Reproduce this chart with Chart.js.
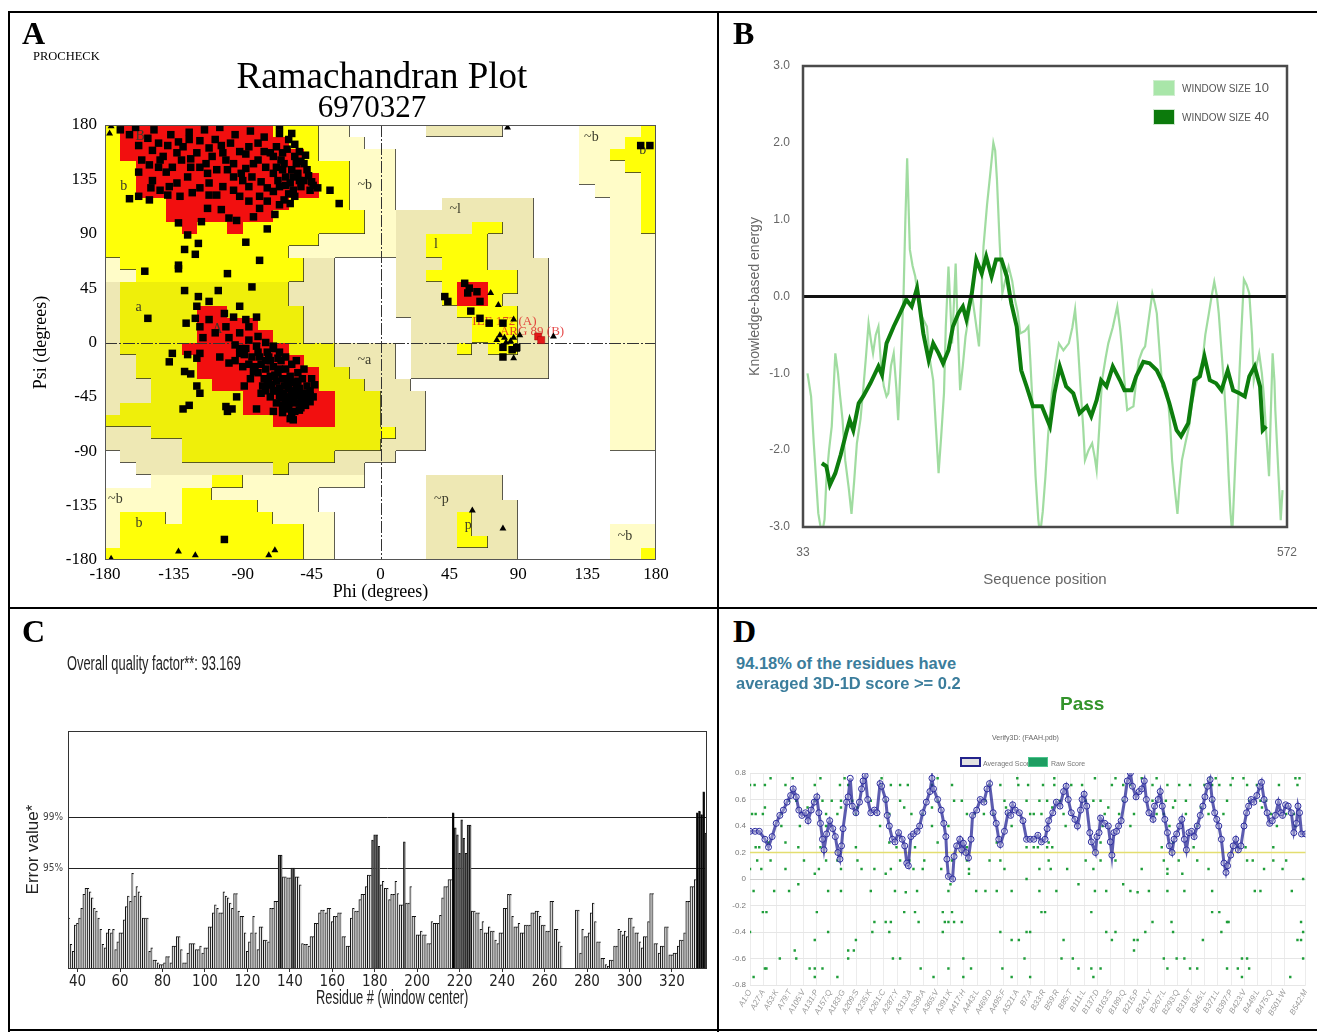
<!DOCTYPE html>
<html>
<head>
<meta charset="utf-8">
<title>Model validation</title>
<script src="https://cdn.jsdelivr.net/npm/chart.js@4.4.1/dist/chart.umd.min.js"></script>
<style>
  html, body { margin: 0; padding: 0; background: #fff; }
  #page { position: relative; width: 1317px; height: 1032px; overflow: hidden; font-family: 'Liberation Sans', Arial, sans-serif; }
  .rule { position: absolute; background: #000; }
  .panel { position: absolute; }
  .letter { position: absolute; font: bold 32px 'Liberation Serif', 'Times New Roman', serif; line-height: 1; }
  .txt { position: absolute; white-space: nowrap; line-height: 1; }
  .serif { font-family: 'Liberation Serif', 'Times New Roman', serif; }
  .swatch { position: absolute; box-sizing: border-box; }
</style>
</head>
<body>
<div id="page">
  <div class="rule" style="left:8px;top:11px;width:1309px;height:2px"></div>
  <div class="rule" style="left:8px;top:11px;width:2px;height:1021px"></div>
  <div class="rule" style="left:717px;top:11px;width:2px;height:1021px"></div>
  <div class="rule" style="left:8px;top:607px;width:1309px;height:2px"></div>
  <div class="rule" style="left:8px;top:1029px;width:1309px;height:2px"></div>

  <canvas id="rama" class="panel" width="706" height="593" style="left:10px;top:13px"></canvas>
  <canvas id="energy" class="panel" width="598" height="593" style="left:719px;top:13px"></canvas>
  <canvas id="errat" class="panel" width="706" height="420" style="left:10px;top:609px"></canvas>
  <canvas id="verify" class="panel" width="598" height="284" style="left:719px;top:745px"></canvas>

  <div class="letter" style="left:22px;top:17px">A</div>
  <div class="letter" style="left:733px;top:17px">B</div>
  <div class="letter" style="left:22px;top:615px">C</div>
  <div class="letter" style="left:733px;top:615px">D</div>

  <div class="txt serif" style="left:33px;top:50px;font-size:12.5px">PROCHECK</div>
  <div class="txt serif" style="left:382px;top:57px;font-size:37px;transform:translateX(-50%)">Ramachandran Plot</div>
  <div class="txt serif" style="left:372px;top:91px;font-size:31px;transform:translateX(-50%)">6970327</div>

  <div class="swatch" style="left:1153px;top:80px;width:22px;height:16px;background:#a9e6a9;border:1px solid #cfeecf"></div>
  <div class="txt" style="left:1182px;top:81px;font-size:13px;color:#555"><span style="font-size:10px">WINDOW SIZE</span> 10</div>
  <div class="swatch" style="left:1153px;top:109px;width:22px;height:16px;background:#0c7a0c;border:1px solid #cfe8cf"></div>
  <div class="txt" style="left:1182px;top:110px;font-size:13px;color:#555"><span style="font-size:10px">WINDOW SIZE</span> 40</div>

  <div class="txt" style="left:67px;top:654px;font-size:19.5px;color:#222;transform:scaleX(0.66);transform-origin:left top">Overall quality factor**: 93.169</div>
  <div class="txt" style="left:316px;top:988px;font-size:19.5px;color:#222;transform:scaleX(0.66);transform-origin:left top">Residue # (window center)</div>

  <div class="txt" style="left:736px;top:655px;font-size:16.5px;font-weight:bold;color:#3b7d9c">94.18% of the residues have</div>
  <div class="txt" style="left:736px;top:675px;font-size:16.5px;font-weight:bold;color:#3b7d9c">averaged 3D-1D score &gt;= 0.2</div>
  <div class="txt" style="left:1060px;top:694px;font-size:19px;font-weight:bold;color:#33942b">Pass</div>
  <div class="txt" style="left:992px;top:734px;font-size:7px;color:#666">Verify3D: (FAAH.pdb)</div>
  <div class="swatch" style="left:960px;top:757px;width:21px;height:10px;background:#e2e2e2;border:2px solid #23238c"></div>
  <div class="txt" style="left:983px;top:760px;font-size:7px;color:#777">Averaged Score</div>
  <div class="swatch" style="left:1028px;top:757px;width:20px;height:10px;background:#1e9e62;border:1px solid #4cc48c"></div>
  <div class="txt" style="left:1051px;top:760px;font-size:7px;color:#777">Raw Score</div>
</div>

<script>
// ---------- A: Ramachandran ----------
const ramaTicks = [-180, -135, -90, -45, 0, 45, 90, 135, 180];

// 10-degree cells, top row psi 170..180, first column phi -180..-170
// R core, Y allowed, y allowed (alpha band), G generous, P generous (pale), . disallowed
const ramaGrid = [
  "YRRRRRRRRRRYYYPP.." + "...GGGGG.....PPPPY",
  "YRRRRRRRRRRRYYPPP." + ".............PPPYY",
  "YRRRRRRRRRRRRYPPPP" + "P............PPYYY",
  "YYRRRRRRRRRRRYYYPP" + "P............PPPYY",
  "YYRRRRRRRRRRRRYYPP" + "P............PPPPY",
  "YYRRRRRRRRRRRRYYPP" + "P.............PPPY",
  "YYYYRRRRRRRRYYYYPP" + "P...GGGGGG.....PPY",
  "YYYYRRRRRRRYYYYYYP" + "PGGGGGGGGG.....PPY",
  "YYYYYRYYRYYYYYYYYP" + "PGGGGGYYGG.....PPY",
  "YYYYYYYYYYYYYYPPPP" + "PGGYYYYGGG.....PPP",
  "YYYYYYYYYYYYPPPPPP" + "PGGYYYYGGG.....PPP",
  "PYYYYYYYYYYYYGG..." + ".GGGYYYGGGG....PPP",
  "PPYYYYYYYYYYYGG..." + ".GGYYYYYYGG....PPP",
  "GyyyyyyyyyyyGGG..." + ".GGGYRRYYGG....PPP",
  "GyyyyyyyyyyyGGG..." + ".GGGYRRYGGG....PPP",
  "GyyyyyRRyyyyyGG..." + ".GGGGYYYYGG....PPP",
  "GyyyyyRRRRyyyGG..." + "..GGGGYYYGG....PPP",
  "GyyyyyRRRRRyyGG..." + "..GGGGYYYGG....PPP",
  "GyyyyRRRRRRRyyyGGG" + "G.GGGYGYYGG....PPP",
  "GGyyyyRRRRRRRyyGGG" + "G.GGGGGGGGG....PPP",
  "GGyyyyRRRRRRRRyyGG" + "G.GGGGGGGGG....PPP",
  "GGGyyyyRRRRRRRyyyG" + "GG.............PPP",
  "GGGyyyyyyRRRRRRyyy" + "GGG............PPP",
  "GyyyyyyyyRRRRRRyyy" + "GGG............PPP",
  "yyyyyyyyyyyRRRRyyy" + "GGG............PPP",
  "GGGyyyyyyyyyyyyyyy" + "YGG............PPP",
  "GGGGGyyyyyyyyyyyyy" + "GGG............PPP",
  ".GGGGyyyyyyyyyyGGG" + "G.................",
  "..GGGGGGGGGyGGGGG." + "..................",
  "...PPPPYYPPPPPPPP." + "...GGGGG..........",
  "PPPPPYYPPPPPPP...." + "...GGGGG..........",
  "PPPPPYYYYYPPPP...." + "...GGGGGG.........",
  "PYYYPYYYYYYPPPP..." + "...GGYGGG.........",
  "PYYYYYYYYYYYYPP..." + "...GGYGGG......PPP",
  "PYYYYYYYYYYYYPP..." + "...GGYYGG......PPP",
  "YYYYYYYYYYYYYPP..." + "...GGGGGG......PPY"
];

// residues (phi, psi)
const ramaRes = [
  [-164,172],[-158,163],[-152,169],[-137,172],[-125,174],[-125,168],[-139,163],[-149,159],[-156,151],[-151,147],
  [-142,154],[-133,157],[-129,162],[-120,157],[-112,161],[-104,163],[-92,158],[-88,156],[-80,165],[-66,179],
  [-66,173],[-58,173],[-60,168],[-53,158],[-50,148],[-44,130],[-41,128],[-33,126],[-27,115],[-149,134],
  [-140,141],[-133,132],[-126,137],[-118,145],[-112,132],[-107,143],[-101,151],[-96,137],[-90,134],[-83,148],
  [-80,151],[-75,145],[-70,140],[-67,134],[-64,143],[-62,137],[-59,132],[-57,126],[-55,148],[-53,134],
  [-56,121],[-65,151],[-72,157],[-64,157],[-60,123],[-59,115],[-79,111],[-83,104],[-99,103],[-94,101],
  [-113,111],[-131,121],[-151,118],[-164,119],[-158,121],[-112,122],[-132,99],[-126,89],[-119,82],[-128,77],
  [-121,73],[-88,83],[-79,68],[-74,94],[-132,64],[-132,61],[-154,59],[-100,57],
  [-70,154],[-68,145],[-66,129],[-63,148],[-58,143],[-56,154],[-54,140],[-52,129],[-50,134],[-48,143],
  [-46,126],[-63,118],[-66,114],[-158,141],[-144,126],[-138,129],[-118,128],[-103,129],[-92,121],[-86,129],
  [-79,121],[-113,140],[-124,145],[-96,148],[-110,154],[-103,157],[-88,144],[-136,145],[-144,151],[-130,151],
  [-170,176],[-160,178],[-148,176],[-115,176],[-105,178],[-95,172],[-85,175],[-76,170],[-145,165],[-132,166],
  [-118,167],[-108,168],[-98,165],[-86,162],[-76,158],[-145,145],[-124,152],[-114,148],[-100,143],[-91,140],
  [-84,137],[-78,133],[-74,128],[-70,125],[-62,130],[-57,137],[-52,150],[-49,155],[-47,138],[-45,133],
  [-61,160],[-68,162],[-56,164],[-150,128],[-139,122],[-123,124],[-107,122],[-96,126],[-86,117],[-74,117],
  [-69,106],[-104,110],[-117,100],
  [-84,46],[-128,43],[-119,38],[-112,34],[-106,43],[-120,30],[-152,20],[-102,24],[-127,16],[-121,20],
  [-92,30],[-88,19],[-112,19],[-108,8],[-101,13],[-96,21],[-92,8],[-86,13],[-81,21],[-99,4],[-116,4],[-118,13],
  [-136,-9],[-126,-10],[-138,-16],[-120,-13],[-118,-9],[-128,-24],[-124,-26],[-120,-36],[-118,-42],[-129,-55],
  [-125,-52],[-101,-53],[-97,-55],[-100,-57],[-81,-55],[-70,-57],[-59,-63],[-57,-64],[-53,-56],[-46,-49],
  [-94,-45],[-89,-36],[-99,-17],[-105,-12],[-92,-9],[-81,-3],[-75,-15],[-70,-3],
  [-88,-5],[-84,-12],[-80,-8],[-78,-18],[-75,-22],[-73,-12],[-72,-28],[-70,-20],[-68,-32],[-67,-25],
  [-66,-38],[-65,-15],[-64,-30],[-63,-42],[-62,-22],[-61,-35],[-60,-45],[-59,-28],[-58,-40],[-57,-50],
  [-56,-33],[-55,-44],[-54,-25],[-53,-38],[-52,-48],[-51,-30],[-50,-42],[-49,-52],[-48,-36],[-47,-45],
  [-46,-40],[-70,-40],[-74,-35],[-76,-30],[-80,-25],[-82,-20],[-78,-42],[-72,-45],[-68,-50],[-64,-52],
  [-60,-55],[-85,-30],[-90,-20],[-95,-15],[-92,-5],[-86,2],[-80,5],[-75,0],[-70,-5],[-66,-8],
  [-62,-12],[-58,-18],[-55,-15],[-50,-22],[-45,-30],[-43,-35],[-44,-45],[-58,-60],
  [-66,-44],[-63,-36],[-60,-38],[-57,-45],[-55,-37],[-53,-50],[-51,-44],[-49,-46],[-62,-48],[-65,-46],
  [-68,-40],[-71,-35],[-73,-30],[-69,-27],[-66,-22],[-62,-30],[-59,-33],[-56,-42],[-54,-32],[-60,-50],
  [-64,-58],[-56,-57],[-52,-54],[-48,-48],[-46,-44],[-75,-40],[-77,-36],[-83,-24],[-86,-18],[-79,-12],
  [-89,-10],[-95,-2],[-72,-15],[-67,-13],[-74,-8],
  [-102,-163],[170,163],[176,163],
  [55,49],[58,45],[57,41],[63,42],[65,34],[42,38],[44,34],[59,26],[65,20],[71,16],
  [80,16],[80,-4],[80,-12],[86,-6],[89,-4]
];
const ramaGly = [
  [-176,179],[-177,173],[83,178],[72,41],[77,31],[87,19],[78,6],[81,4],[87,4],[91,6],
  [85,1],[89,-6],[87,-13],[82,0],[76,2],[113,5],[60,-139],[80,-154],
  [-176,-179],[-132,-173],[-121,-176],[-73,-176],[-69,-172]
];
const ramaOut = [[103,5],[105,2]];

const ramaLabels = [
  ['B', -160, 171], ['b', -170, 129], ['~b', -15, 130], ['a', -160, 29], ['A', -110, 11],
  ['~a', -15, -15], ['~l', 45, 110], ['l', 35, 81], ['~b', 133, 170], ['b', 169, 159],
  ['~b', -178, -130], ['b', -160, -150], ['~p', 35, -130], ['p', 55, -151], ['~b', 155, -160]
];
const ramaFlags = [['ILE 172 (A)', 60, 17], ['ARG 89 (B)', 78, 9]];

// ---------- B: knowledge-based energy ----------
const energyTicks = [-3, -2, -1, 0, 1, 2, 3];
const w10 = [
  [38,-1.0],[42,-1.3],[45,-1.91],[50,-2.82],[54,-3.1],[57,-2.9],[59,-2.39],[62,-2.0],[65,-1.69],[69,-0.74],
  [72,-1.0],[74,-1.26],[77,-1.6],[80,-2.13],[84,-2.5],[87,-2.83],[90,-2.4],[93,-1.91],[97,-1.6],[100,-1.22],
  [103,-0.8],[106,-0.35],[109,-0.6],[111,-0.74],[114,-0.5],[117,-0.39],[120,-0.9],[123,-1.17],[126,-1.3],[128,-1.26],
  [131,-0.9],[134,-0.74],[137,-1.2],[139,-1.61],[142,-0.8],[145,0.04],[147,1.0],[149,1.8],[151,1.0],[152,0.61],
  [155,0.4],[158,0.26],[161,0.0],[164,-0.22],[167,-0.3],[171,-0.39],[174,-0.8],[178,-1.09],[181,-1.7],[184,-2.3],
  [187,-1.8],[190,-1.26],[192,-0.4],[195,0.39],[197,-0.1],[199,-0.61],[201,-0.1],[203,0.43],[205,-0.3],[208,-1.22],
  [211,-0.9],[214,-0.52],[217,-0.3],[221,0.04],[225,-0.3],[229,-0.65],[232,0.1],[234,0.65],[238,1.2],[242,1.65],
  [245,2.0],[247,1.9],[249,1.52],[252,0.7],[255,0.04],[258,0.2],[262,0.39],[266,0.2],[269,-0.04],[272,-0.2],
  [275,-0.48],[280,-0.45],[284,-0.39],[286,-0.8],[288,-1.26],[290,-1.8],[292,-2.34],[295,-2.9],[297,-3.1],[300,-2.8],
  [303,-2.34],[306,-1.8],[310,-1.26],[314,-0.9],[318,-0.61],[323,-0.7],[329,-0.61],[333,-0.4],[336,-0.17],[339,-0.6],
  [342,-1.17],[345,-1.7],[347,-2.13],[351,-2.0],[355,-1.91],[358,-2.1],[360,-2.26],[363,-1.7],[366,-1.09],[370,-0.8],
  [373,-0.61],[378,-0.4],[383,-0.13],[386,-0.4],[388,-0.65],[391,-1.1],[394,-1.48],[398,-1.45],[401,-1.43],[404,-1.1],
  [407,-0.83],[411,-0.7],[414,-0.65],[418,-0.3],[422,0.04],[425,-0.1],[427,-0.22],[430,-0.7],[433,-1.17],[436,-1.2],
  [439,-1.26],[442,-1.7],[444,-2.13],[447,-2.5],[450,-2.83],[452,-2.5],[455,-2.13],[459,-1.9],[463,-1.69],[466,-1.4],
  [470,-1.17],[474,-1.0],[478,-0.83],[481,-0.5],[485,-0.22],[488,0.0],[491,0.19],[494,0.0],[496,-0.22],[499,-0.7],
  [502,-1.17],[505,-1.8],[507,-2.34],[509,-2.8],[511,-3.1],[515,-2.0],[518,-1.26],[521,-0.5],[524,0.22],[527,0.15],
  [530,0.04],[533,-0.5],[535,-1.09],[538,-0.9],[541,-0.74],[544,-1.0],[546,-1.26],[549,-1.8],[552,-2.34],[554,-1.5],
  [556,-0.74],[558,-1.1],[559,-1.48],[562,-2.2],[565,-2.91],[567,-2.52]
];
const w40 = [
  [54,-2.17],[59,-2.21],[63,-2.45],[69,-2.3],[75,-2.06],[81,-1.78],[85,-1.61],[89,-1.74],[95,-1.39],[100,-1.3],
  [108,-1.13],[117,-0.91],[121,-1.02],[126,-0.61],[134,-0.39],[141,-0.22],[148,-0.04],[154,-0.13],[160,0.11],[163,-0.13],
  [167,-0.48],[173,-0.83],[178,-0.61],[184,-0.74],[189,-0.87],[195,-0.7],[200,-0.39],[206,-0.22],[211,-0.13],[215,-0.3],
  [221,0.04],[226,0.48],[232,0.3],[237,0.52],[243,0.26],[248,0.48],[254,0.48],[260,0.26],[265,-0.09],[271,-0.39],
  [276,-0.96],[282,-1.17],[289,-1.43],[299,-1.43],[308,-1.69],[313,-1.26],[319,-0.91],[326,-1.17],[334,-1.26],[341,-1.52],
  [349,-1.43],[354,-1.56],[360,-1.35],[365,-1.09],[371,-1.17],[378,-0.91],[386,-1.09],[391,-1.22],[399,-1.22],[404,-1.04],
  [412,-0.85],[419,-0.87],[427,-0.96],[434,-1.13],[441,-1.39],[449,-1.74],[454,-1.82],[462,-1.65],[469,-1.09],[475,-1.04],
  [480,-0.78],[486,-1.09],[493,-1.13],[499,-1.22],[506,-0.96],[512,-1.22],[519,-1.26],[525,-1.3],[530,-1.04],[536,-0.91],
  [542,-1.17],[545,-1.74],[549,-1.69]
];

// ---------- C: ERRAT ----------
const errStart = 36;
const errVal = [
  5.7, 2.7, 1.9, 4.9, 5.1, 5.7, 6.8, 8.4, 9.1, 9.1, 8.7, 8.0, 6.8, 6.5, 5.7, 4.4, 2.7, 2.3, 4.0, 4.4,
  4.0, 4.4, 2.1, 3.0, 4.0, 4.0, 5.5, 7.0, 8.2, 7.6, 10.8, 8.2, 9.3, 8.7, 8.2, 5.7, 5.7, 5.7, 1.9, 2.3,
  0.9, 0.9, 0.6, 0.4, 0.4, 0.6, 1.3, 1.3, 0.6, 2.5, 2.5, 3.6, 3.6, 2.1, 0.6, 0.6, 1.7, 2.8, 2.8, 2.8,
  2.1, 2.1, 2.5, 1.7, 2.3, 2.3, 4.7, 4.7, 6.3, 7.2, 6.8, 6.3, 6.3, 8.7, 8.2, 8.0, 7.4, 6.8, 8.5, 8.5,
  6.5, 5.9, 5.9, 4.0, 1.9, 3.0, 4.0, 5.9, 4.0, 2.1, 4.7, 4.7, 3.2, 3.2, 3.0, 6.8, 6.8, 7.6, 7.6, 12.9,
  12.9, 10.4, 10.4, 10.3, 10.3, 11.4, 11.4, 10.4, 10.4, 9.5, 2.8, 2.7, 2.7, 2.5, 3.6, 3.6, 5.1, 5.1, 6.3, 6.6,
  6.6, 6.3, 6.8, 6.8, 5.3, 5.9, 5.9, 6.3, 6.3, 3.6, 3.6, 2.5, 2.5, 5.7, 6.8, 6.5, 6.5, 7.8, 8.4, 8.4,
  9.3, 10.6, 10.6, 14.6, 15.2, 15.2, 13.9, 9.5, 9.9, 9.1, 9.1, 7.8, 8.4, 8.4, 9.9, 8.5, 7.2, 7.2, 14.4, 7.4,
  7.4, 9.3, 5.9, 5.9, 3.8, 3.8, 4.2, 3.8, 3.8, 2.8, 2.8, 5.3, 5.1, 5.1, 5.1, 6.0, 8.0, 9.3, 9.3, 10.1,
  10.1, 17.7, 16.0, 15.2, 13.1, 16.9, 14.8, 13.1, 16.3, 16.3, 6.5, 6.5, 6.3, 6.3, 4.4, 5.3, 4.0, 4.0, 4.7, 4.2,
  4.2, 3.2, 2.8, 4.0, 4.0, 6.8, 6.8, 8.4, 8.4, 5.9, 4.7, 4.7, 5.1, 4.0, 4.0, 4.9, 4.9, 4.9, 6.3, 6.3,
  6.5, 6.5, 5.9, 4.9, 4.9, 4.2, 4.2, 7.6, 7.6, 4.4, 4.4, 3.0, 2.5, 0, 0, 0, 0, 0, 0, 6.6,
  6.6, 1.7, 4.4, 3.6, 3.6, 4.0, 6.3, 7.4, 5.3, 3.0, 3.0, 1.1, 1.1, 0.4, 0.2, 0.9, 0.9, 2.5, 2.5, 4.4,
  4.2, 3.8, 4.2, 3.6, 5.7, 5.7, 4.7, 4.0, 4.0, 3.0, 2.3, 3.6, 3.6, 5.3, 8.5, 8.5, 2.8, 2.8, 1.7, 2.5,
  2.5, 4.7, 4.7, 1.5, 1.5, 1.7, 1.7, 2.5, 3.2, 3.2, 4.0, 7.6, 7.6, 9.3, 9.3, 10.1, 17.7, 17.9, 17.5, 20.1,
  15.4
];
const errTicks = [40, 60, 80, 100, 120, 140, 160, 180, 200, 220, 240, 260, 280, 300, 320];
const errLimits = [11.36, 17.19];
const errLimitNames = ['95%', '99%'];

// ---------- D: Verify3D ----------
const verifyTickPos = [0,26,52,78,104,130,156,182,208,234,260,286,312,338,364,390,416,442,468,494,520,
  546,572,598,624,650,676,702,728,754,780,806,832,858,884,910,936,962,988,1014,1040,1081];
const verifyTickNames = ['A1:O','A27:A','A53:K','A79:T','A105:V','A131:P','A157:Q','A183:G','A209:S','A235:K',
  'A261:C','A287:Y','A313:A','A339:A','A365:V','A391:K','A417:H','A443:L','A469:D','A495:F','A521:A',
  'B7:A','B33:R','B59:R','B85:T','B111:L','B137:D','B163:S','B189:Q','B215:P','B241:Y','B267:L','B293:Q',
  'B319:T','B345:L','B371:L','B397:P','B423:V','B449:L','B475:Q','B501:W','B542:M'];
const verifyYTicks = [-0.8, -0.6, -0.4, -0.2, 0, 0.2, 0.4, 0.6, 0.8];
const avgScore = [
  [0,0.36],[10,0.36],[18,0.36],[29,0.3],[36,0.24],[43,0.32],[51,0.42],[58,0.48],[65,0.52],[72,0.58],
  [79,0.63],[84,0.68],[90,0.62],[95,0.52],[101,0.48],[108,0.5],[113,0.44],[119,0.52],[125,0.58],[130,0.62],
  [134,0.5],[137,0.42],[141,0.3],[144,0.22],[149,0.34],[155,0.44],[161,0.38],[166,0.32],[171,0.2],[175,0.15],
  [178,0.25],[181,0.38],[188,0.58],[191,0.62],[195,0.76],[199,0.55],[206,0.5],[213,0.58],[217,0.68],[220,0.74],
  [224,0.78],[229,0.6],[235,0.5],[242,0.52],[247,0.5],[253,0.72],[256,0.7],[264,0.6],[267,0.48],[271,0.4],
  [277,0.3],[282,0.28],[289,0.35],[296,0.3],[301,0.25],[305,0.12],[308,0.1],[313,0.32],[318,0.34],[325,0.36],
  [330,0.4],[336,0.5],[343,0.58],[350,0.66],[354,0.76],[357,0.68],[365,0.6],[372,0.52],[377,0.42],[381,0.32],
  [383,0.15],[386,0.02],[394,0.0],[397,0.17],[402,0.25],[408,0.3],[412,0.22],[415,0.27],[420,0.2],[425,0.16],
  [430,0.3],[433,0.48],[441,0.52],[448,0.6],[455,0.58],[461,0.68],[466,0.72],[473,0.5],[479,0.42],[484,0.3],
  [487,0.26],[495,0.36],[502,0.5],[507,0.48],[511,0.56],[516,0.52],[524,0.5],[531,0.44],[538,0.3],[545,0.3],
  [552,0.3],[560,0.33],[567,0.28],[574,0.3],[578,0.38],[581,0.44],[589,0.5],[596,0.58],[603,0.55],[610,0.66],
  [615,0.7],[619,0.6],[625,0.5],[632,0.45],[637,0.4],[643,0.52],[646,0.6],[650,0.64],[655,0.55],[661,0.35],
  [664,0.28],[672,0.2],[675,0.32],[679,0.35],[682,0.46],[690,0.42],[697,0.4],[701,0.28],[704,0.18],[708,0.35],
  [713,0.36],[717,0.4],[722,0.44],[729,0.6],[734,0.74],[740,0.8],[744,0.7],[751,0.62],[757,0.66],[762,0.68],
  [767,0.74],[771,0.6],[776,0.5],[784,0.45],[787,0.55],[794,0.6],[798,0.66],[802,0.55],[807,0.45],[812,0.35],
  [816,0.25],[821,0.2],[825,0.3],[830,0.34],[836,0.4],[840,0.45],[845,0.3],[849,0.22],[854,0.35],[859,0.36],
  [864,0.32],[870,0.4],[876,0.48],[881,0.55],[885,0.62],[890,0.7],[895,0.75],[899,0.6],[904,0.5],[908,0.45],
  [912,0.4],[917,0.3],[922,0.12],[926,0.05],[929,0.1],[935,0.18],[940,0.25],[945,0.3],[950,0.22],[955,0.25],
  [961,0.4],[966,0.5],[970,0.55],[975,0.6],[980,0.58],[986,0.63],[992,0.7],[995,0.73],[1000,0.6],[1006,0.5],
  [1011,0.42],[1016,0.44],[1022,0.48],[1028,0.58],[1033,0.5],[1036,0.48],[1042,0.56],[1047,0.55],[1053,0.5],[1058,0.35],
  [1063,0.42],[1066,0.55],[1069,0.5],[1073,0.34],[1081,0.34]
];
const rawLevels = [0.76, 0.71, 0.59, 0.54, 0.49, 0.40, 0.275, 0.24, 0.14, 0.075, 0.04, 0.0, -0.04, -0.09, -0.1,
  -0.25, -0.325, -0.40, -0.46, -0.54, -0.60, -0.675, -0.74, -0.81];
const rawPositions = [
  [40,83,137,184,256,365,520,592,671,711,762,791,895,906,939,960,1061,1069],
  [0,9,29,69,126,175,191,256,274,292,307,354,393,466,487,522,541,570,592,625,646,704,726,740,783,812,835,856,884,899,913,935,967,986,1029,1065],
  [76,90,126,141,159,177,199,235,264,292,365,397,412,458,495,538,563,578,603,653,668,682,726,783,809,827,848,899,928,971,993,1004],
  [29,112,177,209,300,354,498,588,697,823,877,996],
  [4,11,25,61,148,170,206,271,314,336,422,437,455,473,502,545,552,567,610,690,718,747,791,805,848,892,921,1014,1043,1058],
  [61,97,148,253,354,386,509,614,686,740,816,870,1025,1061],
  [36,69,271,365,480,581,682,823],
  [11,18,94,137,206,285,321,422,538,552,560,578,588,801,863,949,964,1018],
  [14,40,105,148,170,209,292,310,339,393,422,466,487,581,653,682,711,805,834,870,967,978,1018,1043],
  [0,22,69,134,177,217,242,274,318,336,372,426,495,563,585,617,668,762,812,892,1000,1036],
  [126,264,426,812,841],
  [538,1076],
  [94,390,639,726],
  [7,47,76,152,177,235,282,325,386,440,458,480,509,563,596,671,693,740,776,812,845,899,982,993,1054],
  [303,754],
  [25,32,130,300,321,375,393,567,574,664,899,913],
  [242,264,274,328,379,386,397,412,783,820,928,931,1072],
  [0,152,238,271,375,487,538,545,693,711,769,823,917,1076],
  [126,206,509,523,610,704,747,754,881,1065,1072],
  [87,191,202,747],
  [58,90,191,278,292,415,534,606,628,805,830,845,957,967,1076],
  [29,32,116,126,141,332,386,430,491,639,664,682,812,856,870,928,949,971],
  [7,126,170,357,415,509,545,668,957,1051],
  [906]
];

// ---------- drawing ----------
Chart.defaults.animation = false;
Chart.defaults.font.family = "'Liberation Sans', Arial, sans-serif";
const serif = "'Liberation Serif', 'Times New Roman', serif";
const narrow = "'Liberation Sans Narrow', 'DejaVu Sans Condensed', 'Liberation Sans', sans-serif";
const toXY = arr => arr.map(p => ({ x: p[0], y: p[1] }));
const noLegend = { legend: { display: false }, tooltip: { enabled: false } };

const cellColors = { R: '#f20f0f', Y: '#ffff08', y: '#efef0a', G: '#eee8b4', P: '#fffcc8' };
const cellRank = { R: 3, Y: 2, y: 2, G: 1, P: 1, '.': 0 };

const ramaPaint = {
  id: 'ramaPaint',
  beforeDatasetsDraw(chart) {
    const { ctx, scales: { x, y } } = chart;
    const px = j => Math.round(x.getPixelForValue(-180 + 10 * j));
    const py = i => Math.round(y.getPixelForValue(180 - 10 * i));
    ctx.save();
    ramaGrid.forEach((row, i) => {
      for (let j = 0; j < row.length; j++) {
        const c = row[j];
        if (c === '.') continue;
        ctx.fillStyle = cellColors[c];
        ctx.fillRect(px(j), py(i), px(j + 1) - px(j), py(i + 1) - py(i));
      }
    });
    // region outlines on right and lower edges, as in the PROCHECK plot
    ctx.strokeStyle = 'rgba(40,40,40,0.75)';
    ctx.lineWidth = 1;
    ctx.beginPath();
    ramaGrid.forEach((row, i) => {
      for (let j = 0; j < row.length; j++) {
        const r = cellRank[row[j]];
        if (r === 0 || r === 3) continue;
        if (j + 1 < row.length && cellRank[row[j + 1]] < r) {
          ctx.moveTo(px(j + 1) - 0.5, py(i)); ctx.lineTo(px(j + 1) - 0.5, py(i + 1));
        }
        if (i + 1 < ramaGrid.length && cellRank[ramaGrid[i + 1][j]] < r) {
          ctx.moveTo(px(j), py(i + 1) - 0.5); ctx.lineTo(px(j + 1), py(i + 1) - 0.5);
        }
      }
    });
    ctx.stroke();
    // zero lines
    ctx.strokeStyle = '#333';
    ctx.setLineDash([12, 2, 2, 2]);
    const zx = Math.round(x.getPixelForValue(0)) + 0.5;
    const zy = Math.round(y.getPixelForValue(0)) + 0.5;
    ctx.beginPath();
    ctx.moveTo(zx, chart.chartArea.top); ctx.lineTo(zx, chart.chartArea.bottom);
    ctx.moveTo(chart.chartArea.left, zy); ctx.lineTo(chart.chartArea.right, zy);
    ctx.stroke();
    ctx.setLineDash([]);
    // region letters
    ctx.fillStyle = '#3a3a2a';
    ctx.font = '14px ' + serif;
    ctx.textBaseline = 'middle';
    ramaLabels.forEach(([t, lx, ly]) => ctx.fillText(t, x.getPixelForValue(lx), y.getPixelForValue(ly)));
    ctx.fillStyle = 'rgba(225,40,40,0.85)';
    ctx.font = '13px ' + serif;
    ramaFlags.forEach(([t, lx, ly]) => ctx.fillText(t, x.getPixelForValue(lx), y.getPixelForValue(ly)));
    ctx.restore();
  },
  afterDatasetsDraw(chart) {
    const { ctx, chartArea: a } = chart;
    ctx.save();
    ctx.strokeStyle = '#555';
    ctx.lineWidth = 1;
    ctx.strokeRect(a.left + 0.5, a.top + 0.5, a.right - a.left - 1, a.bottom - a.top - 1);
    ctx.restore();
  }
};

new Chart(document.getElementById('rama'), {
  type: 'scatter',
  data: {
    datasets: [
      { data: toXY(ramaOut), pointStyle: 'rect', pointRadius: 5, backgroundColor: '#e31818', borderColor: '#a01010', borderWidth: 0.5 },
      { data: toXY(ramaGly), pointStyle: 'triangle', pointRadius: 4, backgroundColor: '#000', borderColor: '#000', borderWidth: 0 },
      { data: toXY(ramaRes), pointStyle: 'rect', pointRadius: 5.3, backgroundColor: '#000', borderColor: '#000', borderWidth: 0 }
    ]
  },
  options: {
    responsive: false,
    layout: { padding: { top: 112, right: 60, left: 0, bottom: 0 } },
    plugins: noLegend,
    scales: {
      x: {
        type: 'linear', min: -180, max: 180,
        afterBuildTicks: s => { s.ticks = ramaTicks.map(v => ({ value: v })); },
        afterFit: s => { s.height = 46; },
        grid: { display: false, drawTicks: false }, border: { display: false },
        ticks: { color: '#000', font: { family: serif, size: 17 }, padding: 4, maxRotation: 0 },
        title: { display: true, text: 'Phi (degrees)', color: '#000', font: { family: serif, size: 18 }, padding: { top: 0, bottom: 3 } }
      },
      y: {
        type: 'linear', min: -180, max: 180,
        afterBuildTicks: s => { s.ticks = ramaTicks.map(v => ({ value: v })); },
        afterFit: s => { s.width = 95; },
        grid: { display: false, drawTicks: false }, border: { display: false },
        ticks: { color: '#000', font: { family: serif, size: 17 }, padding: 8 },
        title: { display: true, text: 'Psi (degrees)', color: '#000', font: { family: serif, size: 18 }, padding: { top: 20, bottom: 0 } }
      }
    }
  },
  plugins: [ramaPaint]
});

const energyFrame = {
  id: 'energyFrame',
  afterDatasetsDraw(chart) {
    const { ctx, chartArea: a, scales: { y } } = chart;
    ctx.save();
    const zy = y.getPixelForValue(0);
    ctx.strokeStyle = '#111';
    ctx.lineWidth = 3;
    ctx.beginPath(); ctx.moveTo(a.left, zy); ctx.lineTo(a.right, zy); ctx.stroke();
    ctx.strokeStyle = '#4a4a4a';
    ctx.lineWidth = 2.5;
    ctx.strokeRect(a.left, a.top, a.right - a.left, a.bottom - a.top);
    ctx.restore();
  }
};

new Chart(document.getElementById('energy'), {
  type: 'scatter',
  data: {
    datasets: [
      { data: toXY(w40), showLine: true, borderColor: '#0d7d0d', borderWidth: 4, pointRadius: 0 },
      { data: toXY(w10), showLine: true, borderColor: 'rgba(120,205,120,0.7)', borderWidth: 2.2, pointRadius: 0 }
    ]
  },
  options: {
    responsive: false,
    layout: { padding: { top: 53, right: 30, left: 0, bottom: 0 } },
    plugins: noLegend,
    scales: {
      x: {
        type: 'linear', min: 33, max: 572,
        afterBuildTicks: s => { s.ticks = [{ value: 33 }, { value: 572 }]; },
        afterFit: s => { s.height = 79; },
        grid: { display: false, drawTicks: false }, border: { display: false },
        ticks: { color: '#666', font: { size: 12 }, padding: 18, maxRotation: 0 },
        title: { display: true, text: 'Sequence position', color: '#666', font: { size: 15 }, padding: { top: 0, bottom: 17 } }
      },
      y: {
        type: 'linear', min: -3, max: 3,
        afterBuildTicks: s => { s.ticks = energyTicks.map(v => ({ value: v })); },
        afterFit: s => { s.width = 84; },
        grid: { display: false, drawTicks: false }, border: { display: false },
        ticks: { color: '#666', font: { size: 12 }, padding: 13, callback: v => Number(v).toFixed(1) },
        title: { display: true, text: 'Knowledge-based energy', color: '#666', font: { size: 14 }, padding: { top: 28, bottom: 0 } }
      }
    }
  },
  plugins: [energyFrame]
});

const boxFrame = {
  id: 'boxFrame',
  afterDatasetsDraw(chart) {
    const { ctx, chartArea: a } = chart;
    ctx.save();
    ctx.strokeStyle = '#333';
    ctx.lineWidth = 1;
    ctx.strokeRect(a.left + 0.5, a.top + 0.5, a.right - a.left - 1, a.bottom - a.top);
    ctx.restore();
  }
};

const errColor = v => v > errLimits[1] ? '#000' : (v > errLimits[0] ? '#666' : '#e4e4e4');

new Chart(document.getElementById('errat'), {
  type: 'bar',
  data: {
    datasets: [{
      data: errVal.map((v, i) => ({ x: errStart + i, y: v })),
      backgroundColor: c => errColor(c.raw ? c.raw.y : 0),
      borderColor: '#111',
      borderWidth: { left: 1, top: 1, right: 0, bottom: 0 },
      borderSkipped: false,
      barPercentage: 1, categoryPercentage: 1
    }]
  },
  options: {
    responsive: false,
    layout: { padding: { top: 122, right: 9, left: 0, bottom: 0 } },
    plugins: noLegend,
    scales: {
      x: {
        type: 'linear', min: 35.5, max: 336.5, offset: false,
        afterBuildTicks: s => { s.ticks = errTicks.map(v => ({ value: v })); },
        afterFit: s => { s.height = 61; },
        grid: { display: true, drawOnChartArea: false, drawTicks: true, tickLength: 4, color: '#333', offset: false },
        border: { display: false },
        ticks: { color: '#222', font: { family: narrow, size: 15 }, padding: 1, maxRotation: 0, autoSkip: false }
      },
      y: {
        type: 'linear', min: 0, max: 27.05,
        afterBuildTicks: s => { s.ticks = errLimits.map(v => ({ value: v })); },
        afterFit: s => { s.width = 58; },
        grid: { display: true, drawTicks: false, color: '#222', lineWidth: 1 },
        border: { display: false },
        ticks: { color: '#444', font: { family: narrow, size: 10 }, padding: 5, callback: (v, i) => errLimitNames[i] },
        title: { display: true, text: 'Error value*', color: '#222', font: { size: 17 }, padding: { top: 13, bottom: 0 } }
      }
    }
  },
  plugins: [boxFrame]
});

const rawPoints = [];
rawLevels.forEach((lv, k) => rawPositions[k].forEach(p => rawPoints.push({ x: p, y: lv })));

new Chart(document.getElementById('verify'), {
  type: 'scatter',
  data: {
    datasets: [
      { data: toXY(avgScore), showLine: true, borderColor: 'rgba(38,38,150,0.75)', borderWidth: 3,
        pointRadius: 3, pointBorderWidth: 1, pointBorderColor: '#2b2b9e', pointBackgroundColor: 'rgba(255,255,255,0.25)' },
      { data: rawPoints, pointStyle: 'rect', pointRadius: 1.7, backgroundColor: '#1f9e3a', borderWidth: 0 },
      { data: [{ x: 0, y: 0.2 }, { x: 1081, y: 0.2 }], showLine: true, borderColor: '#e4de70', borderWidth: 1.5, pointRadius: 0 }
    ]
  },
  options: {
    responsive: false,
    layout: { padding: { top: 28, right: 6, left: 0, bottom: 0 } },
    plugins: noLegend,
    scales: {
      x: {
        type: 'linear', min: 0, max: 1081,
        afterBuildTicks: s => { s.ticks = verifyTickPos.map(v => ({ value: v })); },
        afterFit: s => { s.height = 44; },
        grid: { color: '#ececec', drawTicks: false }, border: { display: false },
        ticks: { color: '#999', font: { size: 8, style: 'italic' }, padding: 3, autoSkip: false,
          minRotation: 60, maxRotation: 60, callback: (v, i) => verifyTickNames[i] }
      },
      y: {
        type: 'linear', min: -0.8, max: 0.8,
        afterBuildTicks: s => { s.ticks = verifyYTicks.map(v => ({ value: v })); },
        afterFit: s => { s.width = 31; },
        grid: { color: c => (c.tick && c.tick.value === 0) ? '#cfcfcf' : '#e6e6e6', drawTicks: false },
        border: { display: false },
        ticks: { color: '#777', font: { size: 8 }, padding: 4, callback: v => String(Math.round(v * 10) / 10) }
      }
    }
  }
});
</script>
</body>
</html>
